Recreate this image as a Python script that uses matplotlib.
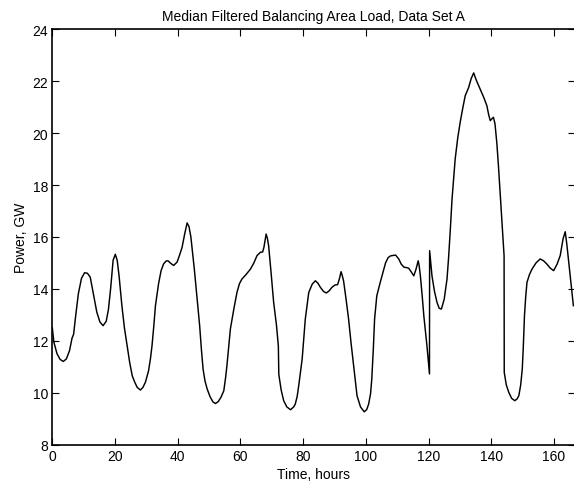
import matplotlib
matplotlib.use("Agg")
import matplotlib.pyplot as plt
import numpy as np

plt.rcParams['font.family'] = ['Liberation Sans', 'DejaVu Sans']

# Median-filtered load samples (hours, GW)
hours = [
    0.0, 0.5, 1.5, 2.5, 3.5, 4.5, 5.5, 6.3, 6.8, 7.4, 8.3, 9.3, 10.3, 11.2,
    12.1, 13.2, 14.2, 15.2, 16.2, 17.2, 17.9, 18.6, 19.4, 20.1, 20.7, 21.3,
    22.2, 23.0, 23.9, 24.7, 25.5, 26.3, 27.1, 28.1, 28.9, 29.7, 30.7, 31.3,
    31.8, 32.4, 32.9, 33.9, 34.7, 35.5, 36.3, 36.9, 37.8, 38.7, 39.8, 40.6,
    41.4, 42.2, 43.0, 43.6, 44.2, 45.3, 46.2, 47.0, 47.6, 48.1, 48.7, 49.4,
    50.3, 51.2, 52.0, 52.9, 53.8, 54.7, 55.3, 55.7, 56.3, 56.8, 57.9, 58.9,
    59.7, 60.5, 61.8, 63.2, 64.3, 65.3, 66.4, 67.1, 67.5, 68.2, 68.6, 69.0,
    69.8, 70.6, 71.5, 72.1, 72.25, 73.0, 73.8, 74.8, 76.0, 77.0, 77.5, 78.1,
    78.6, 79.7, 80.7, 81.8, 82.9, 83.9, 84.7, 85.5, 86.5, 87.4, 88.3, 89.2,
    90.2, 91.0, 91.6, 92.1, 92.5, 92.9, 93.7, 94.5, 95.3, 96.1, 96.7, 97.2,
    98.3, 99.5, 100.3, 100.9, 101.5, 101.9, 102.4, 102.8, 103.5, 104.6,
    105.4, 106.3, 107.1, 107.9, 109.5, 110.5, 111.3, 112.2, 113.0, 113.7,
    114.5, 115.3, 116.0, 116.7, 117.0, 117.4, 118.0, 118.5, 119.5, 120.3,
    120.35, 121.1, 121.9, 122.7, 123.4, 124.1, 125.0, 125.9, 126.4, 126.9,
    127.5, 128.5, 129.3, 130.1, 130.9, 131.7, 132.8, 133.6, 134.4, 135.2,
    136.0, 136.8, 137.6, 138.6, 139.2, 139.7, 140.2, 140.7, 141.2, 141.8,
    142.3, 143.3, 144.1, 144.15, 144.8, 145.6, 146.5, 147.5, 148.2, 148.8,
    149.4, 149.9, 150.2, 150.6, 151.0, 151.4, 152.2, 153.0, 154.3, 155.6,
    156.7, 157.7, 158.8, 159.9, 161.0, 162.0, 162.9, 163.6, 164.1, 165.2,
    166.2,
]
load_gw = [
    12.5, 11.95, 11.5, 11.28, 11.2, 11.3, 11.62, 12.1, 12.25, 12.9, 13.8,
    14.4, 14.62, 14.6, 14.45, 13.75, 13.1, 12.72, 12.58, 12.75, 13.2, 14.0,
    15.1, 15.33, 15.1, 14.5, 13.35, 12.5, 11.8, 11.15, 10.65, 10.4, 10.2,
    10.1, 10.2, 10.4, 10.84, 11.3, 11.8, 12.6, 13.35, 14.2, 14.7, 14.96,
    15.07, 15.08, 14.98, 14.9, 15.03, 15.3, 15.6, 16.1, 16.54, 16.4, 16.0,
    14.76, 13.6, 12.58, 11.6, 10.9, 10.45, 10.14, 9.85, 9.65, 9.58, 9.65,
    9.82, 10.07, 10.6, 11.04, 11.8, 12.45, 13.22, 13.86, 14.2, 14.38, 14.55,
    14.76, 15.0, 15.28, 15.41, 15.42, 15.6, 16.11, 15.95, 15.66, 14.6, 13.48,
    12.6, 11.8, 10.7, 10.1, 9.69, 9.45, 9.34, 9.45, 9.56, 9.85, 10.27, 11.3,
    12.84, 13.86, 14.18, 14.31, 14.22, 14.06, 13.9, 13.84, 13.92, 14.06,
    14.15, 14.16, 14.4, 14.66, 14.5, 14.31, 13.6, 12.84, 11.9, 11.04, 10.4,
    9.88, 9.45, 9.26, 9.35, 9.56, 9.95, 10.52, 11.7, 12.84, 13.73, 14.25,
    14.6, 15.0, 15.2, 15.27, 15.3, 15.15, 14.95, 14.83, 14.82, 14.79, 14.65,
    14.5, 14.75, 15.08, 14.9, 14.5, 13.7, 12.96, 11.8, 10.72, 15.47, 14.5,
    13.9, 13.48, 13.25, 13.22, 13.6, 14.38, 15.2, 16.18, 17.46, 19.0, 19.8,
    20.42, 20.95, 21.44, 21.76, 22.1, 22.32, 22.05, 21.83, 21.6, 21.38,
    21.06, 20.7, 20.48, 20.55, 20.61, 20.36, 19.6, 18.74, 16.82, 15.27,
    10.78, 10.3, 10.01, 9.78, 9.69, 9.75, 9.88, 10.3, 10.91, 11.68, 12.96,
    13.7, 14.25, 14.55, 14.76, 15.0, 15.15, 15.08, 14.96, 14.8, 14.7, 14.95,
    15.28, 15.92, 16.2, 15.73, 14.5, 13.35,
]
x_ticks = [0, 20, 40, 60, 80, 100, 120, 140, 160]
y_ticks = [8, 10, 12, 14, 16, 18, 20, 22, 24]

fig = plt.figure(figsize=(5.74, 4.85), dpi=100)
ax = fig.add_axes([0.0911, 0.0814, 0.9100, 0.8561])

ax.plot(hours, load_gw, color='black', linewidth=1.05)

ax.set_xlim(0, 166.6)
ax.set_ylim(8, 24)
ax.set_xticks(x_ticks)
ax.set_yticks(y_ticks)
ax.tick_params(direction='in', length=5, width=0.8, top=True, right=True,
               labelsize=10, pad=3)
for s in ax.spines.values():
    s.set_linewidth(1.2)

ax.set_title('Median Filtered Balancing Area Load, Data Set A', fontsize=10, pad=7)
ax.set_xlabel('Time, hours', fontsize=10, labelpad=3)
ax.set_ylabel('Power, GW', fontsize=10, labelpad=3)

fig.savefig('out.png', dpi=100)
